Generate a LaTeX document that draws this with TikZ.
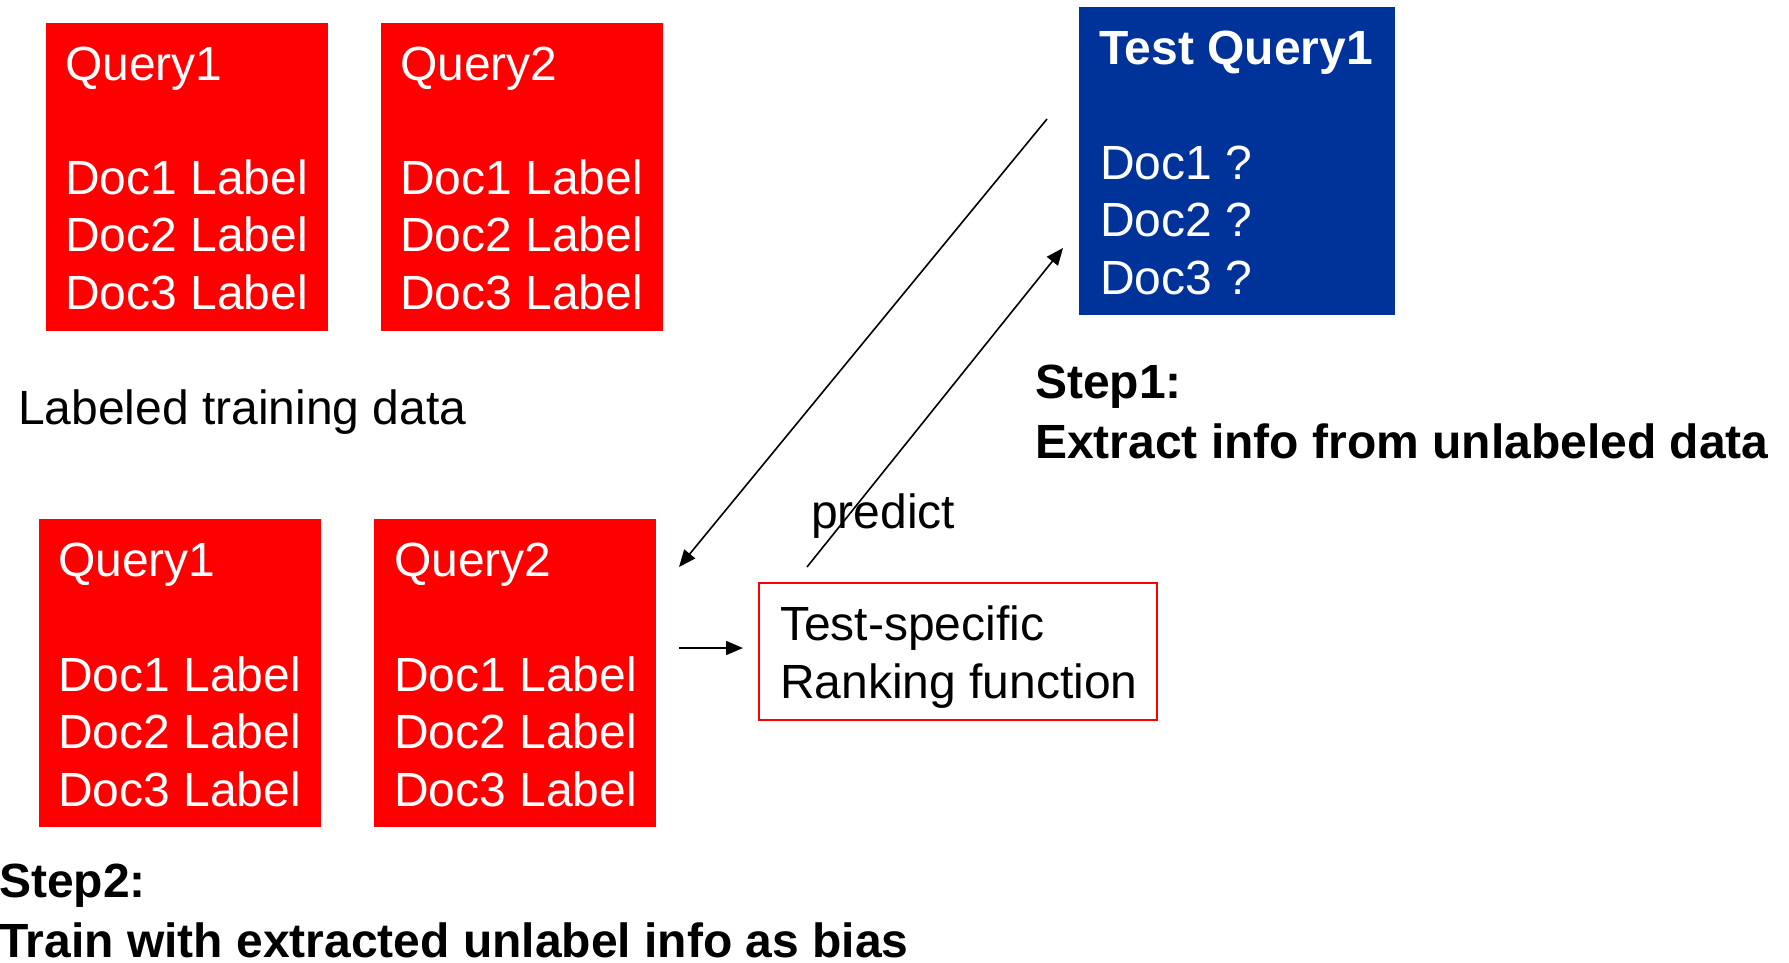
\documentclass[tikz,border=0pt]{standalone}
\usepackage{fontspec}
\setmainfont{Liberation Sans}
\usetikzlibrary{arrows.meta}
\definecolor{qred}{RGB}{255,0,0}
\definecolor{qblue}{RGB}{0,51,153}
\begin{document}
\begin{tikzpicture}[x=1pt,y=-1pt,
  every node/.style={inner sep=0pt, outer sep=0pt, font=\fontsize{48}{57.5}\selectfont},
  querybox/.style={fill=qred, draw=none, minimum width=282pt, minimum height=308pt, anchor=north west},
  testbox/.style={fill=qblue, draw=none, minimum width=316pt, minimum height=308pt, anchor=north west},
  rankbox/.style={draw=qred, line width=2pt, fill=white, minimum width=398pt, minimum height=137pt, anchor=north west},
  wtext/.style={text=white, anchor=base west, align=left},
  btext/.style={text=black, anchor=base west, align=left},
  boldtext/.style={text=black, anchor=base west, align=left, font=\fontsize{48}{60}\selectfont\bfseries},
  arr/.style={draw=black, line width=1.6pt, -{Triangle[length=17pt,width=14pt]}}]
\useasboundingbox (0,0) rectangle (1789,962);

% labelled training queries (top row); multi-line texts are placed by their last baseline
\node[querybox] (tq1) at (45.6,23) {};
\node[wtext] (tq1h) at (65,80) {Query1};
\node[wtext] (tq1d) at (65,309) {Doc1 Label\\Doc2 Label\\Doc3 Label};
\node[querybox] (tq2) at (381,23) {};
\node[wtext] (tq2h) at (400,80) {Query2};
\node[wtext] (tq2d) at (400,309) {Doc1 Label\\Doc2 Label\\Doc3 Label};

\node[btext] (lab) at (18,424) {Labeled training data};

% training queries (bottom row)
\node[querybox] (bq1) at (38.8,519) {};
\node[wtext] (bq1h) at (58,576) {Query1};
\node[wtext] (bq1d) at (58,806) {Doc1 Label\\Doc2 Label\\Doc3 Label};
\node[querybox] (bq2) at (374,519) {};
\node[wtext] (bq2h) at (394,576) {Query2};
\node[wtext] (bq2d) at (394,806) {Doc1 Label\\Doc2 Label\\Doc3 Label};

% test query
\node[testbox] (tst) at (1079,7) {};
\node[wtext, font=\fontsize{48}{57.5}\selectfont\bfseries] (tsth) at (1099,64) {Test Query1};
\node[wtext] (tstd) at (1100,294) {Doc1 ?\\Doc2 ?\\Doc3 ?};

\node[boldtext] (step1) at (1035,458) {Step1:\\Extract info from unlabeled data};

% ranking function
\node[rankbox] (rank) at (759,583) {};
\node[btext] (rankt) at (780,698) {Test-specific\\Ranking function};

\node[btext] (pred) at (811,528) {predict};

\node[boldtext] (step2) at (-1,957) {Step2:\\Train with extracted unlabel info as bias};

% connector end points
\coordinate (a1s) at (1047,119);
\coordinate (a1e) at (679,567);
\coordinate (a2s) at (807,567);
\coordinate (a2e) at (1063,248);
\coordinate (a3s) at (679,648);
\coordinate (a3e) at (743,648);

\draw[arr] (a1s) -- (a1e);
\draw[arr] (a2s) -- (a2e);
\draw[arr] (a3s) -- (a3e);
\end{tikzpicture}
\end{document}
